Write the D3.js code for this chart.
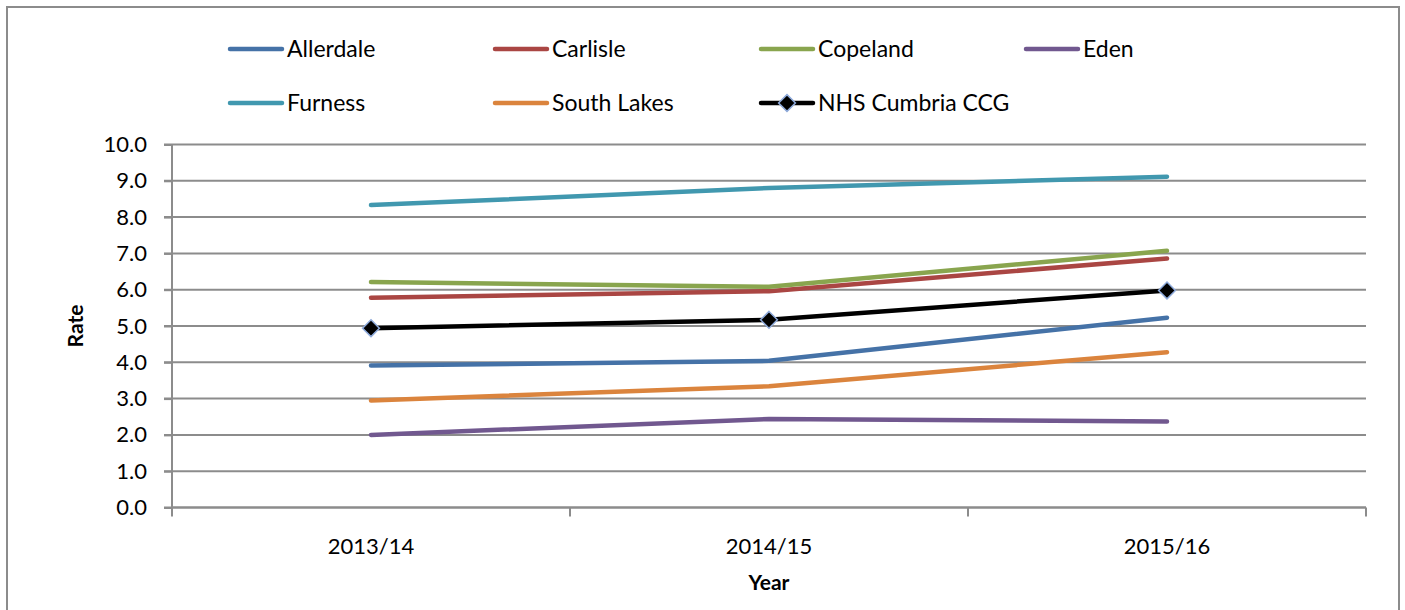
<!DOCTYPE html>
<html>
<head>
<meta charset="utf-8">
<script src="https://cdn.jsdelivr.net/npm/d3@7"></script>
<style>
  html, body { margin: 0; padding: 0; background: #fff; }
  svg { display: block; }
  text { font-family: Lato, "Open Sans", sans-serif; fill: #000; }
</style>
</head>
<body>
<svg id="chart" width="1405" height="610"></svg>
<script>
// Rates per area by financial year
const years = ["2013/14", "2014/15", "2015/16"];
const allerdale   = [3.91, 4.04, 5.23];
const carlisle    = [5.78, 5.96, 6.86];
const copeland    = [6.21, 6.08, 7.07];
const eden        = [2.00, 2.44, 2.37];
const furness     = [8.33, 8.80, 9.11];
const southLakes  = [2.95, 3.34, 4.28];
const cumbriaCCG  = [4.94, 5.17, 5.98];
const yTicks = [0, 1, 2, 3, 4, 5, 6, 7, 8, 9, 10];

const series = [
  { name: "Allerdale",       values: allerdale,  color: "#4572A7" },
  { name: "Carlisle",        values: carlisle,   color: "#AA4643" },
  { name: "Copeland",        values: copeland,   color: "#89A54E" },
  { name: "Eden",            values: eden,       color: "#71588F" },
  { name: "Furness",         values: furness,    color: "#4198AF" },
  { name: "South Lakes",     values: southLakes, color: "#DB843D" },
  { name: "NHS Cumbria CCG", values: cumbriaCCG, color: "#000000", marker: true }
];

const svg = d3.select("#chart");

// outer chart frame
svg.append("rect")
  .attr("x", 7).attr("y", 7).attr("width", 1392).attr("height", 620)
  .attr("fill", "#fff").attr("stroke", "#8c8c8c").attr("stroke-width", 2);

const plot = { left: 172, right: 1366, top: 144.5, bottom: 507.5 };

const x = d3.scaleBand().domain(years).range([plot.left, plot.right]).padding(0);
const y = d3.scaleLinear().domain([0, 10]).range([plot.bottom, plot.top]);

// horizontal gridlines
svg.append("g")
  .selectAll("line")
  .data(yTicks)
  .join("line")
  .attr("x1", plot.left - 8).attr("x2", plot.right)
  .attr("y1", d => y(d)).attr("y2", d => y(d))
  .attr("stroke", "#8c8c8c").attr("stroke-width", 2);

// y axis
const yAxis = svg.append("g")
  .attr("transform", `translate(${plot.left},0)`)
  .call(d3.axisLeft(y).tickValues(yTicks).tickFormat(d3.format(".1f")).tickSize(8).tickPadding(17));
yAxis.select(".domain").attr("stroke", "#8c8c8c").attr("stroke-width", 2)
  .attr("d", `M0,${plot.top}V${plot.bottom + 1}`);
yAxis.selectAll(".tick line").attr("stroke", "#8c8c8c").attr("stroke-width", 2);
yAxis.selectAll(".tick text").style("font-size", "22px").attr("fill", "#000")
  .style("font-family", "Lato, sans-serif");

// x axis (ticks between categories)
const xAxisG = svg.append("g").attr("transform", `translate(0,${plot.bottom})`);
xAxisG.append("line")
  .attr("x1", plot.left).attr("x2", plot.right)
  .attr("stroke", "#8c8c8c").attr("stroke-width", 2);
const boundaries = years.map(d => x(d)).concat([x(years[years.length - 1]) + x.bandwidth()]);
xAxisG.selectAll("line.tk")
  .data(boundaries)
  .join("line").attr("class", "tk")
  .attr("x1", d => d).attr("x2", d => d)
  .attr("y1", 0).attr("y2", 9)
  .attr("stroke", "#8c8c8c").attr("stroke-width", 2);
xAxisG.selectAll("text")
  .data(years)
  .join("text")
  .attr("x", d => x(d) + x.bandwidth() / 2)
  .attr("y", 46)
  .attr("text-anchor", "middle")
  .style("font-size", "22px")
  .text(d => d);

// axis titles
svg.append("text")
  .attr("transform", `translate(83,${(plot.top + plot.bottom) / 2}) rotate(-90)`)
  .attr("text-anchor", "middle")
  .style("font-size", "21px").style("font-weight", "bold")
  .text("Rate");
svg.append("text")
  .attr("x", (plot.left + plot.right) / 2).attr("y", 590)
  .attr("text-anchor", "middle")
  .style("font-size", "21px").style("font-weight", "bold")
  .text("Year");

// series lines
const line = d3.line()
  .x((d, i) => x(years[i]) + x.bandwidth() / 2)
  .y(d => y(d));

const draw = series.filter(s => !s.marker).concat(series.filter(s => s.marker));
draw.forEach(s => {
  svg.append("path")
    .datum(s.values)
    .attr("d", line)
    .attr("fill", "none")
    .attr("stroke", s.color)
    .attr("stroke-width", 4.5)
    .attr("stroke-linecap", "round")
    .attr("stroke-linejoin", "round");
});

// diamond markers on the CCG series
const diamond = d3.symbol().type(d3.symbolDiamond2).size(180);
const ccg = series.find(s => s.marker);
svg.append("g")
  .selectAll("path")
  .data(ccg.values)
  .join("path")
  .attr("transform", (d, i) => `translate(${x(years[i]) + x.bandwidth() / 2},${y(d)})`)
  .attr("d", diamond)
  .attr("fill", "#000")
  .attr("stroke", "#8EAADB")
  .attr("stroke-width", 1.5);

// legend
const legendPos = [
  [228, 49], [493, 49], [759, 49], [1024, 49],
  [228, 103], [493, 103], [759, 103]
];
const lg = svg.append("g");
series.forEach((s, i) => {
  const [lx, ly] = legendPos[i];
  const g = lg.append("g").attr("transform", `translate(${lx},${ly})`);
  g.append("line")
    .attr("x1", 2).attr("x2", 54)
    .attr("stroke", s.color).attr("stroke-width", 4.5)
    .attr("stroke-linecap", "round");
  if (s.marker) {
    g.append("path")
      .attr("transform", "translate(28,0)")
      .attr("d", diamond)
      .attr("fill", "#000").attr("stroke", "#8EAADB").attr("stroke-width", 1.5);
  }
  g.append("text")
    .attr("x", 59).attr("y", 0).attr("dy", "0.35em")
    .style("font-size", "23px")
    .text(s.name);
});
</script>
</body>
</html>
